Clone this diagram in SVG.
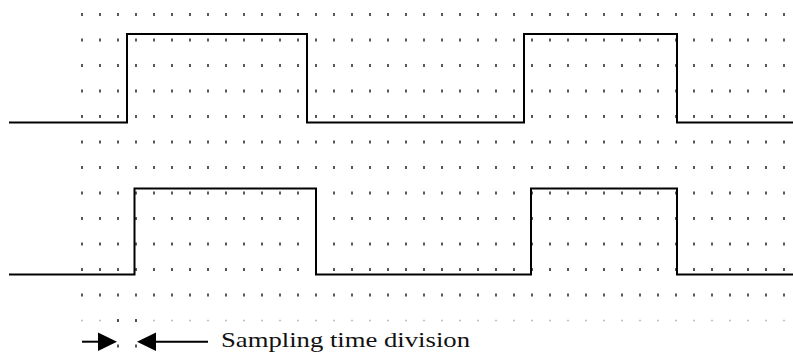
<svg xmlns="http://www.w3.org/2000/svg" width="793" height="358" viewBox="0 0 793 358">
  <defs>
    <style>
      .grid { stroke: #222; stroke-width: 3; stroke-dasharray: 1.5 16.5; fill: none; }
      .gridfaint { stroke: #aaa; stroke-width: 1.5; stroke-dasharray: 1.5 16.5; fill: none; }
      .wave { stroke: #000; stroke-width: 2; fill: none; stroke-linejoin: miter; }
      .arrow { stroke: #000; stroke-width: 2; fill: none; }
      .head { fill: #000; }
      .dot { fill: #222; }
    </style>
  </defs>

  <g id="grid">
    <line class="grid" x1="81.25" y1="14.5" x2="790" y2="14.5"/>
    <line class="grid" x1="81.25" y1="40" x2="790" y2="40"/>
    <line class="grid" x1="81.25" y1="65.5" x2="790" y2="65.5"/>
    <line class="grid" x1="81.25" y1="91" x2="790" y2="91"/>
    <line class="grid" x1="81.25" y1="116.5" x2="790" y2="116.5"/>
    <line class="grid" x1="81.25" y1="142" x2="790" y2="142"/>
    <line class="grid" x1="81.25" y1="167.5" x2="790" y2="167.5"/>
    <line class="grid" x1="81.25" y1="193" x2="790" y2="193"/>
    <line class="grid" x1="81.25" y1="218.5" x2="790" y2="218.5"/>
    <line class="grid" x1="81.25" y1="244" x2="790" y2="244"/>
    <line class="grid" x1="81.25" y1="269.5" x2="790" y2="269.5"/>
    <line class="grid" x1="81.25" y1="295" x2="790" y2="295"/>
    <line class="gridfaint" x1="81.25" y1="320.5" x2="790" y2="320.5"/>
    <rect class="dot" x="117.25" y="319" width="1.5" height="3"/>
    <rect class="dot" x="135.25" y="319" width="1.5" height="3"/>
    <rect class="dot" x="117.25" y="344.5" width="1.5" height="3"/>
    <rect class="dot" x="135.25" y="344.5" width="1.5" height="3"/>
  </g>

  <g id="signal-top">
    <path class="wave" d="M9,122.5 H127 V34 H307 V122.5 H524 V34 H677 V122.5 H793"/>
  </g>

  <g id="signal-bottom">
    <path class="wave" d="M9,274.5 H134.5 V188.5 H316 V274.5 H531 V188.5 H677 V274.5 H793"/>
  </g>

  <g id="connectors">
    <line class="arrow" x1="82" y1="341.7" x2="100" y2="341.7"/>
    <polygon class="head" points="98,332.5 117,341.7 98,351"/>
    <line class="arrow" x1="208" y1="341.7" x2="153" y2="341.7"/>
    <polygon class="head" points="156,332.5 137,341.7 156,351"/>
  </g>

  <g id="label">
    <text x="221" y="347" style="font-family: 'Liberation Serif', serif; font-size: 22px;" fill="#111" textLength="249" lengthAdjust="spacingAndGlyphs">Sampling time division</text>
  </g>
</svg>
